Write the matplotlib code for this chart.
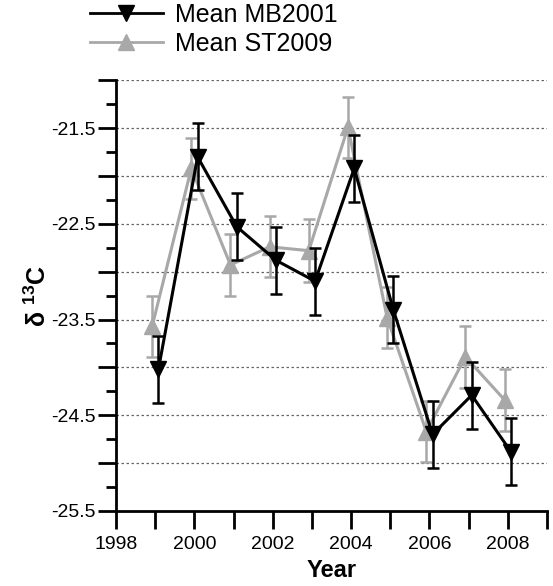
import numpy as np
import matplotlib
matplotlib.use("Agg")
from matplotlib import pyplot as plt
from matplotlib.lines import Line2D
from matplotlib.ticker import MultipleLocator, FixedLocator

plt.rcParams["font.family"] = ["Liberation Sans", "DejaVu Sans"]
plt.rcParams["mathtext.fontset"] = "custom"
plt.rcParams["mathtext.bf"] = "Liberation Sans:bold"
plt.rcParams["mathtext.rm"] = "Liberation Sans"

years = np.array([1999, 2000, 2001, 2002, 2003, 2004, 2005, 2006, 2007, 2008])
mb_mean = [-24.02, -21.80, -22.53, -22.88, -23.10, -21.92, -23.40, -24.70, -24.29, -24.88]
mb_err = [0.35, 0.35, 0.35, 0.35, 0.35, 0.35, 0.35, 0.35, 0.35, 0.35]
st_mean = [-23.57, -21.92, -22.93, -22.74, -22.78, -21.49, -23.48, -24.67, -23.89, -24.34]
st_err = [0.32, 0.32, 0.32, 0.32, 0.33, 0.32, 0.32, 0.32, 0.32, 0.32]

gray = "#a8a8a8"
msize = 12

fig = plt.figure(figsize=(5.53, 5.86), dpi=100)
ax = fig.add_axes([0.21, 0.128, 0.779, 0.735])

# small x offset so the two series don't overlap
ax.errorbar(years - 0.08, st_mean, yerr=st_err, color=gray, marker="^",
            markersize=msize, lw=2.2, capsize=4, capthick=1.8, elinewidth=1.8, zorder=3)
ax.errorbar(years + 0.08, mb_mean, yerr=mb_err, color="black", marker="v",
            markersize=msize, lw=2.2, capsize=4, capthick=1.8, elinewidth=1.8, zorder=4)

ax.set_xlim(1998, 2009)
ax.set_ylim(-25.5, -21.0)

ax.set_xticks(np.arange(1998, 2010, 1))
ax.set_xticklabels([str(y) if y % 2 == 0 and y < 2009 else "" for y in range(1998, 2010)])

ax.yaxis.set_major_locator(FixedLocator(np.arange(-25.5, -20.9, 0.5)))
ax.yaxis.set_minor_locator(MultipleLocator(0.25))
ylabels = ["-25.5", "", "-24.5", "", "-23.5", "", "-22.5", "", "-21.5", ""]
ax.set_yticklabels(ylabels)

for yv in np.arange(-25.0, -20.9, 0.5):
    ax.axhline(yv, color="#666666", lw=0.9, ls=(0, (2, 2)), zorder=1)

ax.spines["top"].set_visible(False)
ax.spines["right"].set_visible(False)
ax.spines["left"].set_linewidth(2)
ax.spines["bottom"].set_linewidth(2)
ax.tick_params(axis="both", which="major", direction="out", length=13, width=2,
               labelsize=14, pad=2)
ax.tick_params(axis="x", which="major", pad=5)
ax.tick_params(axis="y", which="minor", direction="out", length=7, width=2)

ax.set_xlabel("Year", fontsize=17, fontweight="bold", labelpad=4)
ax.set_ylabel(r"δ $^{\mathregular{13}}$C", fontsize=18, fontweight="bold", labelpad=0)

handles = [
    Line2D([], [], color="black", marker="v", markersize=msize, lw=2),
    Line2D([], [], color=gray, marker="^", markersize=msize, lw=2),
]
fig.legend(handles, ["Mean MB2001", "Mean ST2009"], loc="upper left",
           bbox_to_anchor=(0.163, 0.995), frameon=False, fontsize=18,
           borderpad=0, borderaxespad=0,
           handlelength=2.9, handletextpad=0.5, labelspacing=0.2)

fig.savefig("out.png", dpi=100)
